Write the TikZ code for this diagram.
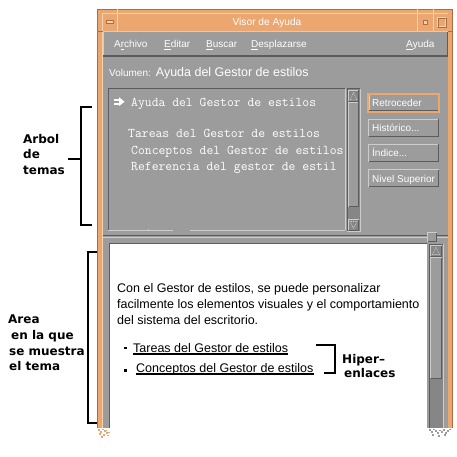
\documentclass[tikz,border=0pt]{standalone}
\usepackage{fontspec}
\setmainfont{Liberation Sans}
\newfontfamily\annotfont{DejaVu Sans}
\definecolor{wgray}{RGB}{156,156,156}
\definecolor{trough}{RGB}{134,134,134}
\definecolor{edark}{RGB}{92,92,92}
\definecolor{elight}{RGB}{205,205,205}
\definecolor{worange}{RGB}{236,167,112}
\definecolor{lorange}{RGB}{248,210,172}
\definecolor{dorange}{RGB}{170,110,70}
\newcommand{\bevelbox}[6]{%
  \draw[#5,line width=1pt] (#1,#4) -- (#1,#2) -- (#3,#2);
  \draw[#6,line width=1pt] (#3,#2) -- (#3,#4) -- (#1,#4);}
\tikzset{
  menu/.style={anchor=base west, inner sep=0pt, text=white, font=\fontsize{10}{12}\selectfont},
  tree/.style={anchor=base west, inner sep=0pt, text=white, font=\ttfamily\fontsize{13.3}{16}\selectfont},
  body/.style={anchor=base west, inner sep=0pt, text=black, font=\fontsize{12.5}{15}\selectfont},
  annot/.style={anchor=base west, inner sep=0pt, text=black, font=\annotfont\bfseries\fontsize{12}{14}\selectfont},
  brk/.style={line width=2pt, black},
  linkline/.style={line width=1.3pt, black},
  arrowtri/.style={elight, line width=0.8pt, densely dotted},
}
\begin{document}
\begin{tikzpicture}[x=1pt,y=-1pt]
\useasboundingbox (0,0) rectangle (456,457);
\fill[white] (0,0) rectangle (456,457);

% ---------- window frame ----------
\fill[worange] (97,9) rectangle (452,428);
\draw[dorange,line width=0.6pt] (97,9) -- (452,9) -- (452,428);
\draw[dorange,line width=0.6pt] (97,9) -- (97,428);
% title bar
\draw[lorange,line width=0.8pt] (102,13) -- (448,13);
\draw[lorange,line width=0.8pt] (117,9) -- (117,31);
\draw[lorange,line width=0.8pt] (417,9) -- (417,31);
\draw[lorange,line width=0.8pt] (433,9) -- (433,31);
\draw[lorange,line width=0.8pt] (102,13) -- (102,428);
\draw[dorange,line width=0.6pt] (97,31) -- (452,31);
\node[inner sep=0pt, anchor=base, text=white, font=\fontsize{10.2}{12}\selectfont] (title) at (267,26) {Visor de Ayuda};
% close / minimize / maximize icons
\fill[lorange] (106,20) rectangle (113,23);
\draw[dorange,line width=0.5pt] (106,20) rectangle (113,23);
\fill[lorange] (423,20) rectangle (427,24);
\draw[dorange,line width=0.5pt] (423,20) rectangle (427,24);
\draw[lorange,line width=0.8pt] (437,17) rectangle (445,26);
\draw[dorange,line width=0.5pt] (438,18) rectangle (446,27);

% ---------- window body ----------
\fill[wgray] (103,31) rectangle (448,428);
% menu bar
\bevelbox{103.5}{32}{447.5}{55.5}{elight}{edark}
\draw[edark,line width=2pt] (103,56) -- (448,56);
\node[menu] (mArchivo) at (114,48) {A\underline{r}chivo};
\node[menu] (mEditar) at (164,48) {\underline{E}ditar};
\node[menu] (mBuscar) at (206,48) {\underline{B}uscar};
\node[menu] (mDespl) at (251,48) {\underline{D}esplazarse};
\node[menu] (mAyuda) at (406,48) {\underline{A}yuda};

% volumen line
\node[menu] (vol) at (109,77) {Volumen:\hspace{5pt}{\fontsize{12.5}{15}\selectfont Ayuda del Gestor de estilos}};

% ---------- topic tree ----------
\draw[edark,line width=1pt] (108,231) -- (108,89) -- (345,89);
\draw[elight,line width=1pt] (345,89) -- (345,230);
\draw[elight,line width=1pt] (108,230.5) -- (173,230.5);
\draw[elight,line width=1pt] (190,230.5) -- (345,230.5);
\fill[elight] (147.5,228.5) rectangle (148.5,230);
% current-topic arrow (bold double arrow)
\fill[white] (114,98.8) rectangle (120,100.8);
\fill[white] (114,102.6) rectangle (120,104.6);
\fill[white] (119,97.2) -- (124.5,101.7) -- (119,106.2) -- cycle;
\node[tree] (t1) at (131,107) {Ayuda del Gestor de estilos};
\node[tree] (t2) at (128,138) {Tareas del Gestor de estilos};
\node[tree] (t3) at (131,155) {Conceptos del Gestor de estilos};
\node[tree] (t4) at (131,170) {Referencia del gestor de estil};

% tree scrollbar
\fill[trough] (347,89) rectangle (360,231);
\bevelbox{347}{89}{360}{231}{edark}{elight}
\bevelbox{348.5}{90.5}{358.5}{101.5}{elight}{edark}
\draw[arrowtri] (353.5,92.5) -- (350,100) -- (357,100) -- cycle;
\fill[wgray] (348.5,102.5) rectangle (358.5,206.5);
\bevelbox{348.5}{102.5}{358.5}{206.5}{elight}{edark}
\bevelbox{348.5}{219.5}{358.5}{230}{elight}{edark}
\draw[arrowtri] (353.5,228.5) -- (350,221.5) -- (357,221.5) -- cycle;

% ---------- buttons ----------
\bevelbox{369}{95}{438}{111}{elight}{edark}
\draw[worange,line width=1.3pt] (368,94) rectangle (439,112);
\node[menu] (bRetro) at (372,107) {Retroceder};
\bevelbox{368.5}{119.5}{438.5}{136.5}{elight}{edark}
\node[menu] (bHist) at (372,132) {Histórico...};
\bevelbox{368.5}{144.5}{438.5}{161.5}{elight}{edark}
\node[menu] (bIndice) at (372,157) {Índice...};
\bevelbox{368.5}{169.5}{438.5}{186.5}{elight}{edark}
\node[menu] (bNivel) at (372,182) {Nivel Superior};

% ---------- sash ----------
\draw[edark,line width=1pt] (103,235.5) -- (448,235.5);
\draw[elight,line width=0.8pt] (103,237) -- (448,237);
\fill[wgray] (427,232) rectangle (437,242);
\bevelbox{427.5}{232.5}{436.5}{241.5}{elight}{edark}

% ---------- display area ----------
\fill[white] (109,243.5) rectangle (427,428);
\draw[edark,line width=0.8pt] (109,428) -- (109,243.5) -- (427,243.5);
% lower scrollbar
\fill[trough] (429,244) rectangle (443,428);
\draw[edark,line width=1pt] (429,428) -- (429,244) -- (443,244);
\draw[elight,line width=1pt] (443,244) -- (443,428);
\bevelbox{430.5}{245.5}{441.5}{256}{elight}{edark}
\draw[arrowtri] (436,247.5) -- (432.5,254.5) -- (439.5,254.5) -- cycle;
\fill[wgray] (430.5,257.5) rectangle (441.5,378);
\bevelbox{430.5}{257.5}{441.5}{378}{elight}{edark}

% torn bottom edge (dithering)
\foreach \px/\py in {98/429,100/431,102/428.5,104/430,106/432,99/433,103/434,101/436,105/429.5,108/431.5,107/434.5}
  \fill[worange] (\px,\py) rectangle ++(1.5,1.5);
\foreach \px/\py in {429/429,431/431,433/428.5,435/430,437/432,439/429.5,441/431,443/429,445/432,447/430,449/428.5,432/434,438/435,444/434}
  \fill[wgray] (\px,\py) rectangle ++(1.5,1.5);

\node[body] (p1) at (117,292) {Con el Gestor de estilos, se puede personalizar};
\node[body] (p2) at (117,308) {facilmente los elementos visuales y el comportamiento};
\node[body] (p3) at (117,324) {del sistema del escritorio.};

\fill[black] (124,346.5) rectangle (126.5,349);
\node[body] (l1) at (133,352) {Tareas del Gestor de estilos};
\draw[linkline] ([yshift=-2pt]l1.base west) -- ([yshift=-2pt]l1.base east);
\fill[black] (124,369) rectangle (127,372);
\node[body] (l2) at (136,372) {Conceptos del Gestor de estilos};
\draw[linkline] ([yshift=-2pt]l2.base west) -- ([yshift=-2pt]l2.base east);

% ---------- annotations ----------
\draw[brk] (316,345) -- (335,345) -- (335,373) -- (324,373);
\node[annot] (hip1) at (342,363) {Hiper–};
\node[annot] (hip2) at (344,377) {enlaces};

\draw[brk] (92,107) -- (81,107) -- (81,225) -- (92,225);
\draw[brk] (68,159) -- (81,159);
\node[annot] (a1) at (23,144) {Arbol};
\node[annot] (a2) at (23,159) {de};
\node[annot] (a3) at (23,174) {temas};

\draw[brk] (97,252) -- (88,252) -- (88,423) -- (97,423);
\node[annot] (b1) at (8,323) {Area};
\node[annot] (b2) at (11,339) {en la que};
\node[annot] (b3) at (9,355) {se muestra};
\node[annot] (b4) at (9,370) {el tema};
\end{tikzpicture}
\end{document}
